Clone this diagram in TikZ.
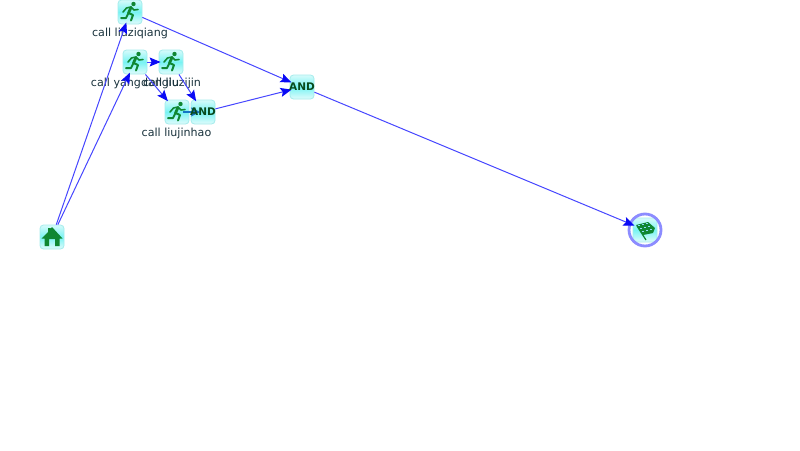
\documentclass[tikz,border=0pt]{standalone}
\usepackage{fontspec}
\setmainfont{DejaVu Sans}
\usetikzlibrary{arrows.meta}
\definecolor{edgeblue}{RGB}{70,70,255}
\definecolor{tipblue}{RGB}{10,10,245}
\definecolor{boxedge}{RGB}{165,236,236}
\definecolor{boxtop}{RGB}{215,251,251}
\definecolor{boxmid}{RGB}{120,243,243}
\definecolor{boxbot}{RGB}{225,252,252}
\definecolor{icongreen}{RGB}{15,135,50}
\definecolor{labeltext}{RGB}{25,50,60}
\tikzset{
 iconbox/.style={minimum size=24pt,inner sep=0pt,rounded corners=3.5pt,draw=boxedge,line width=.8pt,top color=boxtop,bottom color=boxbot,middle color=boxmid},
 steplabel/.style={font=\fontsize{11.1pt}{12pt}\selectfont,text=labeltext,inner sep=0pt,anchor=center},
 flow/.style={draw=edgeblue,line width=1pt,shorten >=-2pt,-{Stealth[length=11pt,width=9pt,inset=2pt,color=tipblue]}},
 andtext/.style={font=\fontsize{10.5pt}{11pt}\selectfont\bfseries,text=icongreen!55!black,inner sep=0pt},
}
\newcommand{\runner}[1]{\begin{scope}[shift={(#1)},icongreen,line cap=round,line join=round]
 \fill (3.5,-8) circle (2.2);
 \draw[line width=2.8pt] (1,-4.5) -- (-1.5,1);
 \draw[line width=1.6pt] (-7,0) -- (-3.5,-4) -- (1,-5) -- (4,-2) -- (8,-2.5);
 \draw[line width=2pt] (-1.5,1) -- (3,3) -- (1,8.5);
 \draw[line width=2pt] (-1.5,1) -- (-4,6) -- (-9,6);
\end{scope}}
\newcommand{\house}[1]{\begin{scope}[shift={(#1)},icongreen]
 \fill (-10.5,1.5) -- (-4,-5) -- (-4,-9) -- (-1.5,-9) -- (-1.5,-8) -- (0,-10) -- (10.5,1.5) -- (7.5,1.5) -- (7.5,9) -- (3,9) -- (3,2) -- (-3,2) -- (-3,9) -- (-7.5,9) -- (-7.5,1.5) -- cycle;
\end{scope}}
\newcommand{\checkflag}[1]{\begin{scope}[shift={(#1)}]
 \fill[icongreen] (-9,-5) -- (3,-8) -- (10,-2) -- (8,3) -- (-2,5) -- cycle;
 \foreach \a/\b in {-7/-5,-3/-6,1/-7,-5/-2,-1/-3,3/-4,-3/1,1/0,5/-1} \fill[white!55!cyan] (\a,\b) rectangle +(1.7,1.4);
 \draw[icongreen,line width=1.2pt] (-8,-4) -- (1,10);
\end{scope}}
\begin{document}
\begin{tikzpicture}[x=1pt,y=-1pt]
\useasboundingbox[fill=white] (0,0) rectangle (800,450);
\node[iconbox] (liu) at (130,12) {};
\node[iconbox] (yang) at (135,62) {};
\node[iconbox] (jin) at (171,62) {};
\node[iconbox] (hao) at (177,112) {};
\node[iconbox] (andb) at (203,112) {};
\node[iconbox] (anda) at (302,87) {};
\node[iconbox] (home) at (52,237) {};
\node[iconbox] (end) at (645,230) {};
\draw[draw=blue!45!white,line width=2.8pt] (645,230) circle (16);
\runner{130,12}\runner{135,62}\runner{171,62}\runner{177,112}
\house{52,237}
\checkflag{645,230}
\node[steplabel] (lliu) at (130,33) {call liuziqiang};
\node[steplabel] (lyang) at (135,83) {call yangdanglu};
\node[steplabel] (ljin) at (172,83) {call liuzijin};
\node[steplabel] (lhao) at (176.5,133) {call liujinhao};
\draw[flow] (home) -- (liu);
\draw[flow] (home) -- (yang);
\draw[flow] (liu) -- (anda);
\draw[flow] (yang) -- (jin);
\draw[flow] (yang) -- (hao);
\draw[flow] (jin) -- (andb);
\draw[draw=cyan!55!blue,line width=1.6pt,shorten <=6pt,shorten >=3pt,-{Stealth[length=9pt,width=9pt,inset=2pt,color=cyan!50!blue]}] (hao.center) -- (andb.center);
\draw[flow] (andb) -- (anda);
\draw[flow] (anda) -- (end);
\node[andtext] (tandb) at (andb) {AND};
\node[andtext] (tanda) at (anda) {AND};
\end{tikzpicture}
\end{document}
